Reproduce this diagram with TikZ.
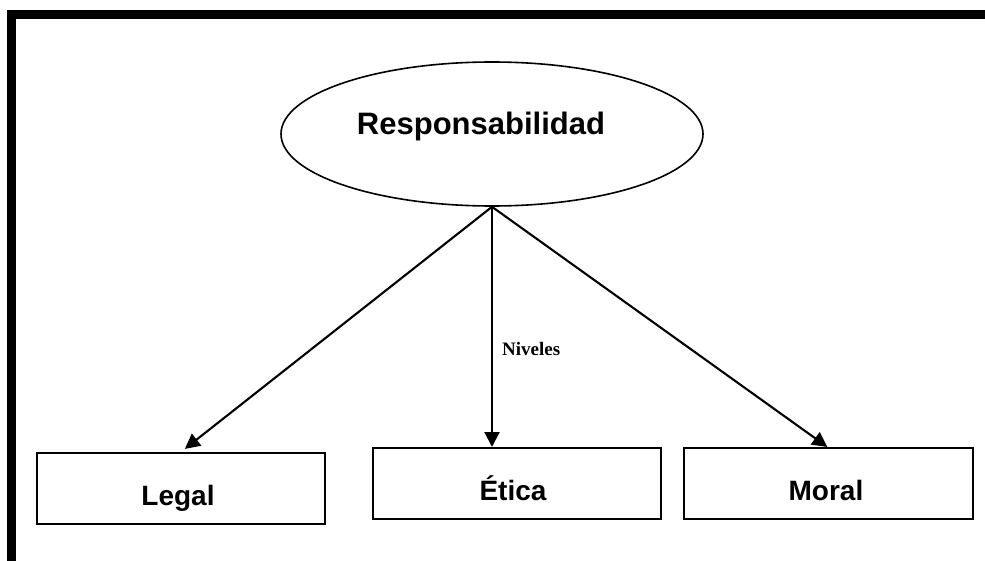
\documentclass[tikz,border=0pt]{standalone}
\usepackage{fontspec}
\setmainfont{Liberation Serif}
\newfontfamily\arialbf{Liberation Sans}[UprightFont=*-Bold]
\usetikzlibrary{shapes.geometric,arrows.meta}
\begin{document}
\begin{tikzpicture}[x=1pt,y=-1pt,
  boxnode/.style={draw,line width=1.8pt,minimum width=288pt,minimum height=71pt,inner sep=0pt,anchor=north west},
  boxtext/.style={font=\arialbf\fontsize{28}{30}\selectfont,anchor=base,inner sep=0pt},
  arr/.style={line width=2.1pt,-{Triangle[length=15pt,width=15pt]}}]
\useasboundingbox (0,0) rectangle (985,561);
\fill[white] (0,0) rectangle (985,561);
% frame
\fill[black] (7,10) rectangle (985,19);
\fill[black] (7,10) rectangle (16,561);
% ellipse
\node[ellipse,draw,line width=1.6pt,minimum width=422pt,minimum height=144pt,inner sep=0pt] (resp) at (492,134) {};
\node[font=\arialbf\fontsize{31}{33}\selectfont,anchor=base,inner sep=0pt] (resptext) at (481,135) {Responsabilidad};
% boxes
\node[boxnode] (legal) at (36,452) {};
\node[boxnode] (etica) at (372,447) {};
\node[boxnode,minimum width=289pt] (moral) at (683,447) {};
\node[boxtext] (legaltext) at (178,505) {Legal};
\node[boxtext] (eticatext) at (513,500) {Ética};
\node[boxtext] (moraltext) at (826,500) {Moral};
% arrows
\draw[arr,shorten >=5pt] (resp.south) -- (legal.north);
\draw[arr] (resp.south) -- (resp.south |- etica.north);
\draw[arr] (resp.south) -- ([xshift=-1pt]moral.north);
\node[font=\bfseries\fontsize{19}{21}\selectfont,anchor=base west,inner sep=0pt] (niveles) at (502,355) {Niveles};
\end{tikzpicture}
\end{document}
